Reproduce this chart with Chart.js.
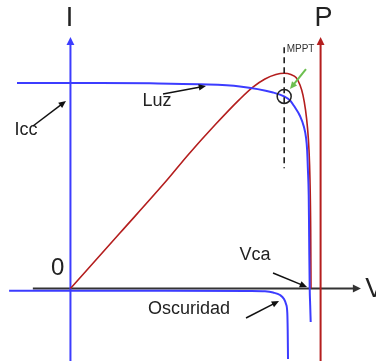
<!DOCTYPE html>
<html>
<head>
<meta charset="utf-8">
<script src="https://cdn.jsdelivr.net/npm/chart.js@4"></script>
<style>
  body { margin: 0; background: #fff; }
  canvas { display: block; }
</style>
</head>
<body>
<canvas id="chart" width="376" height="361"></canvas>
<script>
// Curva I-V de la célula iluminada (V en voltios, I en amperios)
const luzV = [-0.135, 0.075, 0.201, 0.327, 0.428, 0.512, 0.541, 0.555, 0.565, 0.580, 0.590,
              0.595, 0.598, 0.600, 0.602, 0.6027, 0.6035, 0.6045, 0.6057, 0.607];
const luzI = [3.006, 3.006, 3.001, 2.987, 2.955, 2.867, 2.808, 2.750, 2.669, 2.523, 2.362,
              2.216, 2.026, 1.734, 1.368, 1.002, 0.490, 0, -0.241, -0.490];

// Curva I-V en oscuridad
const oscV = [-0.155, 0.201, 0.454, 0.4915, 0.512, 0.5295, 0.5395, 0.5446, 0.5479, 0.5489, 0.5497];
const oscI = [-0.032, -0.032, -0.035, -0.041, -0.059, -0.095, -0.154, -0.227, -0.358, -0.607, -1.031];

// Curva de potencia P-V (W)
const potV = [0, 0.125, 0.244, 0.297, 0.365, 0.428, 0.461, 0.4915, 0.519, 0.540, 0.557,
              0.570, 0.580, 0.5875, 0.594, 0.599, 0.6027, 0.6052, 0.607, 0.6078];
const potP = [0, 0.398, 0.778, 0.958, 1.173, 1.359, 1.445, 1.503, 1.535, 1.544, 1.535,
              1.514, 1.460, 1.388, 1.280, 1.151, 0.994, 0.778, 0.420, 0];

// Punto de máxima potencia
const mppV = 0.540;
const mppI = 2.81;

const azul = '#3c3cff';
const rojo = '#b41e1e';
const negro = '#333333';
const verde = '#6cbf4f';
const fuente = '"Liberation Sans", Arial, sans-serif';

const toPts = (xs, ys) => xs.map((x, k) => ({ x: x, y: ys[k] }));

function flecha(ctx, x1, y1, x2, y2, color, ancho, cabeza, abre) {
  const ang = Math.atan2(y2 - y1, x2 - x1);
  ctx.strokeStyle = color;
  ctx.fillStyle = color;
  ctx.lineWidth = ancho;
  ctx.beginPath();
  ctx.moveTo(x1, y1);
  ctx.lineTo(x2 - Math.cos(ang) * cabeza * 0.7, y2 - Math.sin(ang) * cabeza * 0.7);
  ctx.stroke();
  ctx.beginPath();
  ctx.moveTo(x2, y2);
  ctx.lineTo(x2 - cabeza * Math.cos(ang - abre), y2 - cabeza * Math.sin(ang - abre));
  ctx.lineTo(x2 - cabeza * Math.cos(ang + abre), y2 - cabeza * Math.sin(ang + abre));
  ctx.closePath();
  ctx.fill();
}

function texto(ctx, t, x, y, size, align, color) {
  ctx.fillStyle = color || '#222';
  ctx.font = size + 'px ' + fuente;
  ctx.textAlign = align || 'center';
  ctx.textBaseline = 'middle';
  ctx.fillText(t, x, y);
}

// Ejes I, V y P con sus flechas, y las anotaciones
const ejes = {
  id: 'ejes',
  beforeDatasetsDraw(chart) {
    const { ctx, scales: { x, y } } = chart;
    const bottom = chart.height;
    const x0 = x.getPixelForValue(0);
    const y0 = y.getPixelForValue(0);
    const xP = x.getPixelForValue(0.632);
    const tope = y.getPixelForValue(3.68);
    ctx.save();
    // eje V
    flecha(ctx, x.getPixelForValue(-0.095), y0, x.getPixelForValue(0.734), y0, negro, 2, 9, 0.45);
    // eje I
    flecha(ctx, x0, bottom, x0, tope, azul, 2, 9, 0.45);
    // eje P
    flecha(ctx, xP, bottom, xP, tope, rojo, 2, 9, 0.45);
    ctx.restore();
  },
  afterDatasetsDraw(chart) {
    const { ctx, scales: { x, y } } = chart;
    const x0 = x.getPixelForValue(0);
    const y0 = y.getPixelForValue(0);
    const xP = x.getPixelForValue(0.632);
    const tope = y.getPixelForValue(3.68);
    const px = (v) => x.getPixelForValue(v);
    const py = (i) => y.getPixelForValue(i);
    ctx.save();

    texto(ctx, 'I', x0 - 1, tope - 18, 27);
    texto(ctx, 'P', xP + 3, tope - 18, 27);
    texto(ctx, 'V', px(0.745), y0 + 1, 27, 'left');
    texto(ctx, '0', x0 - 6, y0 - 20, 24, 'right');

    // línea del MPPT
    const xm = px(mppV);
    ctx.strokeStyle = '#111';
    ctx.lineWidth = 1.5;
    ctx.setLineDash([6, 4]);
    ctx.beginPath();
    ctx.moveTo(xm, py(3.53));
    ctx.lineTo(xm, py(1.76));
    ctx.stroke();
    ctx.setLineDash([]);
    texto(ctx, 'MPPT', xm + 2.5, py(3.50), 10, 'left', '#333');

    ctx.strokeStyle = '#222';
    ctx.lineWidth = 1.5;
    ctx.beginPath();
    ctx.arc(xm, py(mppI), 7, 0, Math.PI * 2);
    ctx.stroke();

    flecha(ctx, px(0.5951), py(3.21), px(0.5547), py(2.917), verde, 2, 8, 0.42);

    // etiquetas con flecha
    texto(ctx, 'Icc', px(-0.112), py(2.318), 18);
    flecha(ctx, px(-0.0946), py(2.377), px(-0.0113), py(2.742), '#111', 1.5, 8, 0.42);

    texto(ctx, 'Luz', px(0.2187), py(2.742), 18);
    flecha(ctx, px(0.2338), py(2.845), px(0.3425), py(2.962), '#111', 1.5, 8, 0.42);

    texto(ctx, 'Vca', px(0.4663), py(0.490), 18);
    flecha(ctx, px(0.5118), py(0.227), px(0.5977), py(0.022), '#111', 1.5, 8, 0.42);

    texto(ctx, 'Oscuridad', px(0.2995), py(-0.300), 18);
    flecha(ctx, px(0.4436), py(-0.431), px(0.527), py(-0.183), '#111', 1.5, 8, 0.42);

    ctx.restore();
  }
};

new Chart(document.getElementById('chart'), {
  type: 'scatter',
  data: {
    datasets: [
      {
        data: toPts(oscV, oscI),
        borderColor: azul, borderWidth: 2, showLine: true, pointRadius: 0,
        cubicInterpolationMode: 'monotone', yAxisID: 'y'
      },
      {
        data: toPts(luzV, luzI),
        borderColor: azul, borderWidth: 2, showLine: true, pointRadius: 0,
        cubicInterpolationMode: 'monotone', yAxisID: 'y'
      },
      {
        data: toPts(potV, potP),
        borderColor: rojo, borderWidth: 1.6, showLine: true, pointRadius: 0,
        cubicInterpolationMode: 'monotone', yAxisID: 'p'
      }
    ]
  },
  options: {
    responsive: false,
    animation: false,
    layout: { padding: 0 },
    plugins: { legend: { display: false }, tooltip: { enabled: false } },
    scales: {
      x: { type: 'linear', min: -0.178, max: 0.772, display: false },
      y: { type: 'linear', min: -1.06, max: 4.22, display: false },
      p: { type: 'linear', min: -0.52, max: 2.07, display: false }
    }
  },
  plugins: [ejes]
});
</script>
</body>
</html>
